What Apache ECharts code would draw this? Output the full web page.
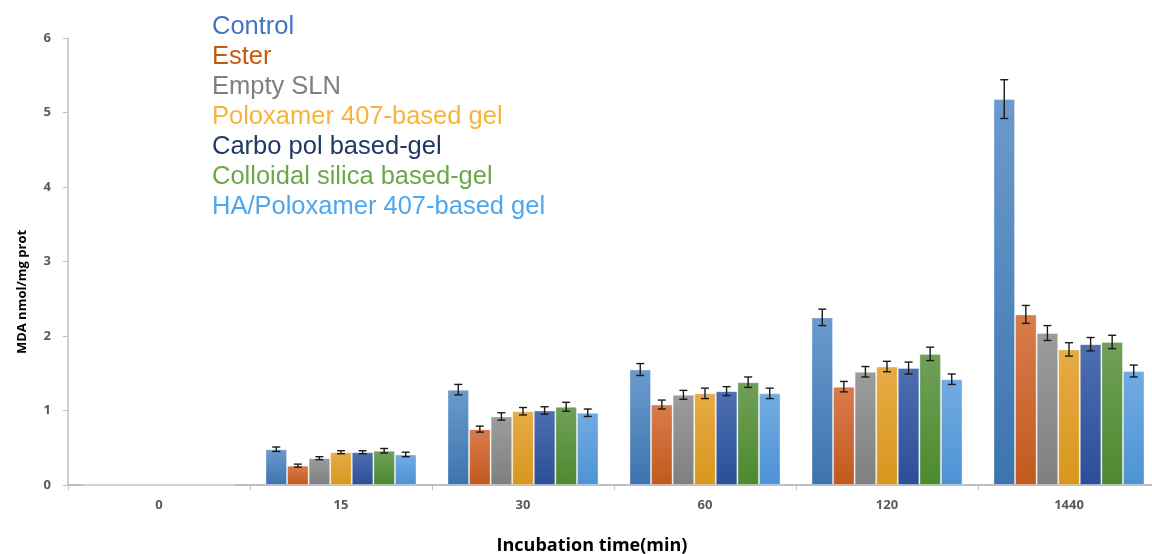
<!DOCTYPE html>
<html>
<head>
<meta charset="utf-8">
<script src="https://cdn.jsdelivr.net/npm/echarts@6/dist/echarts.min.js"></script>
<style>html,body{margin:0;padding:0;background:#fff}#c{width:1152px;height:554px}</style>
</head>
<body>
<div id="c"></div>
<script>
const categories = ['0', '15', '30', '60', '120', '1440'];
const seriesNames = ['Control', 'Ester', 'Empty SLN', 'Poloxamer 407-based gel', 'Carbopol based-gel', 'Colloidal silica based-gel', 'HA/Poloxamer 407-based gel'];
const legendLabels = ['Control', 'Ester', 'Empty SLN', 'Poloxamer 407-based gel', 'Carbo pol based-gel', 'Colloidal silica based-gel', 'HA/Poloxamer 407-based gel'];
const control   = [0, 0.48, 1.28, 1.55, 2.25, 5.18];
const ester     = [0, 0.26, 0.75, 1.08, 1.32, 2.29];
const emptySLN  = [0, 0.36, 0.92, 1.21, 1.52, 2.04];
const poloxamer = [0, 0.44, 0.99, 1.23, 1.59, 1.82];
const carbopol  = [0, 0.44, 1.00, 1.26, 1.57, 1.89];
const colloidal = [0, 0.46, 1.05, 1.38, 1.76, 1.92];
const haPolox   = [0, 0.41, 0.97, 1.23, 1.42, 1.53];
const controlErr   = [0, 0.03, 0.07, 0.08, 0.11, 0.26];
const esterErr     = [0, 0.02, 0.04, 0.06, 0.07, 0.12];
const emptySLNErr  = [0, 0.02, 0.05, 0.06, 0.07, 0.10];
const poloxamerErr = [0, 0.02, 0.05, 0.07, 0.07, 0.09];
const carbopolErr  = [0, 0.02, 0.05, 0.06, 0.08, 0.09];
const colloidalErr = [0, 0.03, 0.06, 0.07, 0.09, 0.09];
const haPoloxErr   = [0, 0.03, 0.05, 0.07, 0.07, 0.08];
const yTicks = [0, 1, 2, 3, 4, 5, 6];

const values = [control, ester, emptySLN, poloxamer, carbopol, colloidal, haPolox];
const errors = [controlErr, esterErr, emptySLNErr, poloxamerErr, carbopolErr, colloidalErr, haPoloxErr];
const gradTop = ['#6b9bcd', '#d87c4c', '#9c9c9c', '#e6ab45', '#4e6eb0', '#6fa058', '#72abe2'];
const gradBot = ['#3c74ae', '#c2591e', '#7f7f7f', '#d8961c', '#2a4e98', '#4d892f', '#4d93d5'];
const textColors = ['#4472c4', '#c55a11', '#7f7f7f', '#f6b53a', '#203864', '#6aa84a', '#4ea6ec'];

const CAT_GAP = 0.17;
const N = seriesNames.length;

const series = [];
seriesNames.forEach((name, i) => {
  series.push({
    name: name,
    type: 'bar',
    data: values[i],
    barGap: '0%',
    barCategoryGap: (CAT_GAP * 100) + '%',
    itemStyle: {
      color: new echarts.graphic.LinearGradient(0, 0, 0, 1, [
        {offset: 0, color: gradTop[i]}, {offset: 1, color: gradBot[i]}
      ]),
      borderColor: 'rgba(255,255,255,0.35)',
      borderWidth: 1
    },
    emphasis: {disabled: true},
    z: 2
  });
});
seriesNames.forEach((name, i) => {
  series.push({
    name: name + ' error',
    type: 'custom',
    z: 5,
    data: values[i].map((v, k) => [k, v, errors[i][k]]),
    renderItem: function (params, api) {
      const err = api.value(2);
      if (!err) return null;
      const k = api.value(0), v = api.value(1);
      const band = api.size([1, 0])[0];
      const barW = band * (1 - CAT_GAP) / N;
      const center = api.coord([k, v]);
      const x = center[0] - band * (1 - CAT_GAP) / 2 + (i + 0.5) * barW;
      const yHi = api.coord([k, v + err])[1];
      const yLo = api.coord([k, v - err])[1];
      const cap = 4;
      const st = {stroke: '#1a1a1a', lineWidth: 1.4};
      return {
        type: 'group',
        children: [
          {type: 'line', shape: {x1: x, y1: yHi, x2: x, y2: yLo}, style: st},
          {type: 'line', shape: {x1: x - cap, y1: yHi, x2: x + cap, y2: yHi}, style: st},
          {type: 'line', shape: {x1: x - cap, y1: yLo, x2: x + cap, y2: yLo}, style: st}
        ]
      };
    }
  });
});

const chart = echarts.init(document.getElementById('c'), null, {renderer: 'canvas'});
chart.setOption({
  animation: false,
  backgroundColor: '#ffffff',
  grid: {left: 68, top: 38, width: 1092, bottom: 69, containLabel: false, outerBoundsMode: 'none'},
  legend: {
    orient: 'vertical',
    left: 201,
    top: 9,
    itemWidth: 0,
    itemHeight: 0,
    itemGap: 4,
    selectedMode: false,
    textStyle: {fontFamily: 'Liberation Sans, Arial, sans-serif', fontSize: 25.5, lineHeight: 26},
    data: seriesNames.map((n, i) => ({name: n, textStyle: {color: textColors[i]}})),
    formatter: function (n) { return legendLabels[seriesNames.indexOf(n)]; }
  },
  xAxis: {
    type: 'category',
    data: categories,
    axisLine: {lineStyle: {color: '#bfbfbf', width: 2}},
    axisTick: {show: true, length: 5, lineStyle: {color: '#bfbfbf'}},
    axisLabel: {color: '#595959', fontFamily: 'Open Sans, sans-serif', fontWeight: 'bold', fontSize: 13, margin: 14},
    name: 'Incubation time(min)',
    nameLocation: 'middle',
    nameGap: 52,
    nameTextStyle: {color: '#000', fontFamily: 'Open Sans, sans-serif', fontWeight: 'bold', fontSize: 18, padding: [0, 44, 0, 0]}
  },
  yAxis: {
    type: 'value',
    min: yTicks[0],
    max: yTicks[yTicks.length - 1],
    interval: 1,
    splitLine: {show: false},
    axisLine: {show: true, lineStyle: {color: '#bfbfbf', width: 1.5}},
    axisTick: {show: true, length: 5, lineStyle: {color: '#bfbfbf'}},
    axisLabel: {color: '#595959', fontFamily: 'Open Sans, sans-serif', fontWeight: 'bold', fontSize: 13, margin: 17}
  },
  graphic: [{
    type: 'text',
    x: 22,
    y: 292,
    rotation: Math.PI / 2,
    style: {
      text: 'MDA nmol/mg prot',
      fill: '#000',
      font: 'bold 13px "Open Sans", sans-serif',
      textAlign: 'center',
      textVerticalAlign: 'middle'
    }
  }],
  series: series
});
</script>
</body>
</html>
